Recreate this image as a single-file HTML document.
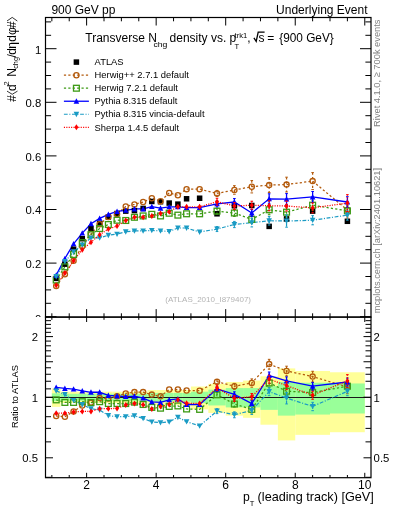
<!DOCTYPE html><html><head><meta charset="utf-8"><style>html,body{margin:0;padding:0;background:#fff;width:393px;height:512px;overflow:hidden;position:relative}</style></head><body><svg width="393" height="512" viewBox="0 0 393 512" style="position:absolute;left:0;top:0;will-change:transform">
<rect width="393" height="512" fill="#fff"/>
<rect x="51.85" y="388.47" width="8.69" height="18.43" fill="#ffff99"/>
<rect x="60.54" y="391.69" width="8.69" height="11.38" fill="#ffff99"/>
<rect x="69.23" y="391.69" width="8.69" height="11.38" fill="#ffff99"/>
<rect x="77.93" y="391.69" width="8.69" height="11.38" fill="#ffff99"/>
<rect x="86.62" y="391.69" width="8.69" height="11.38" fill="#ffff99"/>
<rect x="95.31" y="391.69" width="8.69" height="11.38" fill="#ffff99"/>
<rect x="104.01" y="391.69" width="8.69" height="11.38" fill="#ffff99"/>
<rect x="112.70" y="391.69" width="8.69" height="11.38" fill="#ffff99"/>
<rect x="121.39" y="391.69" width="8.69" height="11.38" fill="#ffff99"/>
<rect x="130.08" y="391.69" width="8.69" height="11.38" fill="#ffff99"/>
<rect x="138.78" y="391.69" width="8.69" height="11.38" fill="#ffff99"/>
<rect x="147.47" y="390.07" width="8.69" height="14.90" fill="#ffff99"/>
<rect x="156.16" y="390.07" width="8.69" height="14.90" fill="#ffff99"/>
<rect x="164.85" y="390.07" width="8.69" height="14.90" fill="#ffff99"/>
<rect x="173.55" y="390.07" width="8.69" height="14.90" fill="#ffff99"/>
<rect x="182.24" y="390.07" width="8.69" height="14.90" fill="#ffff99"/>
<rect x="190.93" y="386.52" width="17.38" height="22.86" fill="#ffff99"/>
<rect x="208.31" y="383.85" width="17.38" height="29.12" fill="#ffff99"/>
<rect x="225.70" y="381.99" width="17.39" height="33.63" fill="#ffff99"/>
<rect x="243.09" y="380.54" width="17.38" height="37.27" fill="#ffff99"/>
<rect x="260.47" y="376.30" width="17.38" height="48.41" fill="#ffff99"/>
<rect x="277.86" y="368.41" width="17.38" height="72.00" fill="#ffff99"/>
<rect x="295.24" y="370.96" width="34.77" height="63.90" fill="#ffff99"/>
<rect x="330.01" y="372.27" width="34.77" height="59.94" fill="#ffff99"/>
<rect x="51.85" y="393.35" width="8.69" height="7.87" fill="#99ff99"/>
<rect x="60.54" y="393.77" width="8.69" height="7.00" fill="#99ff99"/>
<rect x="69.23" y="393.77" width="8.69" height="7.00" fill="#99ff99"/>
<rect x="77.93" y="393.77" width="8.69" height="7.00" fill="#99ff99"/>
<rect x="86.62" y="393.77" width="8.69" height="7.00" fill="#99ff99"/>
<rect x="95.31" y="393.77" width="8.69" height="7.00" fill="#99ff99"/>
<rect x="104.01" y="393.77" width="8.69" height="7.00" fill="#99ff99"/>
<rect x="112.70" y="393.77" width="8.69" height="7.00" fill="#99ff99"/>
<rect x="121.39" y="393.77" width="8.69" height="7.00" fill="#99ff99"/>
<rect x="130.08" y="393.77" width="8.69" height="7.00" fill="#99ff99"/>
<rect x="138.78" y="393.77" width="8.69" height="7.00" fill="#99ff99"/>
<rect x="147.47" y="392.93" width="8.69" height="8.75" fill="#99ff99"/>
<rect x="156.16" y="392.93" width="8.69" height="8.75" fill="#99ff99"/>
<rect x="164.85" y="392.93" width="8.69" height="8.75" fill="#99ff99"/>
<rect x="173.55" y="392.93" width="8.69" height="8.75" fill="#99ff99"/>
<rect x="182.24" y="392.93" width="8.69" height="8.75" fill="#99ff99"/>
<rect x="190.93" y="391.69" width="17.38" height="11.38" fill="#99ff99"/>
<rect x="208.31" y="389.67" width="17.38" height="15.78" fill="#99ff99"/>
<rect x="225.70" y="388.08" width="17.39" height="19.31" fill="#99ff99"/>
<rect x="243.09" y="388.08" width="17.38" height="19.31" fill="#99ff99"/>
<rect x="260.47" y="386.13" width="17.38" height="23.75" fill="#99ff99"/>
<rect x="277.86" y="381.99" width="17.38" height="33.63" fill="#99ff99"/>
<rect x="295.24" y="382.73" width="34.77" height="31.82" fill="#99ff99"/>
<rect x="330.01" y="383.47" width="34.77" height="30.02" fill="#99ff99"/>
<line x1="45.5" y1="397.5" x2="371.0" y2="397.5" stroke="#1a1a1a" stroke-width="1.15"/>
<polyline points="56.20,285.88 64.89,274.36 73.58,260.69 82.27,246.22 90.97,233.89 99.66,224.24 108.35,217.00 117.04,214.06 125.74,206.55 134.43,204.41 143.12,202.00 151.81,198.24 160.51,201.19 169.20,192.88 177.89,195.30 186.58,189.13 199.62,189.13 217.01,193.42 234.39,189.94 251.78,186.72 269.16,185.11 286.55,184.58 312.62,181.09 347.40,210.04" fill="none" stroke="#b35a0c" stroke-width="1.25" stroke-dasharray="2.2,2.2"/>
<polyline points="56.20,279.98 64.89,266.85 73.58,254.52 82.27,242.73 90.97,234.69 99.66,228.53 108.35,224.51 117.04,220.22 125.74,220.49 134.43,217.27 143.12,215.93 151.81,214.32 160.51,215.93 169.20,213.25 177.89,215.13 186.58,213.79 199.62,213.79 217.01,211.11 234.39,212.98 251.78,219.42 269.16,209.77 286.55,212.18 312.62,205.21 347.40,210.84" fill="none" stroke="#3c9a14" stroke-width="1.25" stroke-dasharray="2.2,2.2"/>
<polyline points="56.20,275.16 64.89,258.54 73.58,243.80 82.27,233.08 90.97,223.70 99.66,218.34 108.35,214.32 117.04,211.38 125.74,210.30 134.43,208.96 143.12,208.96 151.81,206.55 160.51,208.16 169.20,206.82 177.89,206.82 186.58,207.62 199.62,207.62 217.01,203.87 234.39,202.00 251.78,212.98 269.16,198.78 286.55,199.05 312.62,196.90 347.40,202.00" fill="none" stroke="#0000ff" stroke-width="1.3"/>
<polyline points="56.20,276.50 64.89,261.49 73.58,251.84 82.27,244.88 90.97,237.91 99.66,237.91 108.35,235.23 117.04,234.16 125.74,231.74 134.43,230.94 143.12,230.94 151.81,230.40 160.51,230.94 169.20,231.48 177.89,227.99 186.58,227.99 199.62,232.01 217.01,229.06 234.39,224.51 251.78,222.63 269.16,220.76 286.55,221.02 312.62,220.22 347.40,215.13" fill="none" stroke="#1a9bc4" stroke-width="1.2" stroke-dasharray="3.8,1.6,1.1,1.6"/>
<polyline points="56.20,285.34 64.89,273.02 73.58,260.69 82.27,249.70 90.97,242.20 99.66,234.69 108.35,229.06 117.04,226.12 125.74,220.49 134.43,217.27 143.12,217.27 151.81,215.93 160.51,213.52 169.20,211.64 177.89,206.82 186.58,206.82 199.62,206.82 217.01,201.73 234.39,206.02 251.78,205.21 269.16,205.75 286.55,206.02 312.62,207.89 347.40,203.07" fill="none" stroke="#ff0000" stroke-width="1.3" stroke-dasharray="1.1,1.3"/>
<rect x="53.45" y="275.63" width="5.5" height="5.5" fill="#000"/>
<rect x="62.14" y="261.42" width="5.5" height="5.5" fill="#000"/>
<rect x="70.83" y="246.41" width="5.5" height="5.5" fill="#000"/>
<rect x="79.52" y="235.96" width="5.5" height="5.5" fill="#000"/>
<rect x="88.22" y="225.78" width="5.5" height="5.5" fill="#000"/>
<rect x="96.91" y="220.69" width="5.5" height="5.5" fill="#000"/>
<rect x="105.60" y="214.25" width="5.5" height="5.5" fill="#000"/>
<rect x="114.29" y="210.77" width="5.5" height="5.5" fill="#000"/>
<rect x="122.99" y="208.36" width="5.5" height="5.5" fill="#000"/>
<rect x="131.68" y="207.82" width="5.5" height="5.5" fill="#000"/>
<rect x="140.37" y="205.68" width="5.5" height="5.5" fill="#000"/>
<rect x="149.06" y="198.71" width="5.5" height="5.5" fill="#000"/>
<rect x="157.76" y="198.98" width="5.5" height="5.5" fill="#000"/>
<rect x="166.45" y="200.32" width="5.5" height="5.5" fill="#000"/>
<rect x="175.14" y="201.39" width="5.5" height="5.5" fill="#000"/>
<rect x="183.83" y="196.03" width="5.5" height="5.5" fill="#000"/>
<rect x="196.87" y="195.49" width="5.5" height="5.5" fill="#000"/>
<rect x="214.26" y="211.04" width="5.5" height="5.5" fill="#000"/>
<rect x="231.64" y="203.00" width="5.5" height="5.5" fill="#000"/>
<rect x="249.03" y="202.73" width="5.5" height="5.5" fill="#000"/>
<rect x="266.41" y="223.63" width="5.5" height="5.5" fill="#000"/>
<rect x="283.80" y="216.13" width="5.5" height="5.5" fill="#000"/>
<rect x="309.88" y="208.36" width="5.5" height="5.5" fill="#000"/>
<rect x="344.65" y="218.54" width="5.5" height="5.5" fill="#000"/>
<circle cx="56.20" cy="285.88" r="2.6" fill="none" stroke="#b35a0c" stroke-width="1.3"/>
<circle cx="64.89" cy="274.36" r="2.6" fill="none" stroke="#b35a0c" stroke-width="1.3"/>
<circle cx="73.58" cy="260.69" r="2.6" fill="none" stroke="#b35a0c" stroke-width="1.3"/>
<circle cx="82.27" cy="246.22" r="2.6" fill="none" stroke="#b35a0c" stroke-width="1.3"/>
<circle cx="90.97" cy="233.89" r="2.6" fill="none" stroke="#b35a0c" stroke-width="1.3"/>
<circle cx="99.66" cy="224.24" r="2.6" fill="none" stroke="#b35a0c" stroke-width="1.3"/>
<circle cx="108.35" cy="217.00" r="2.6" fill="none" stroke="#b35a0c" stroke-width="1.3"/>
<circle cx="117.04" cy="214.06" r="2.6" fill="none" stroke="#b35a0c" stroke-width="1.3"/>
<circle cx="125.74" cy="206.55" r="2.6" fill="none" stroke="#b35a0c" stroke-width="1.3"/>
<circle cx="134.43" cy="204.41" r="2.6" fill="none" stroke="#b35a0c" stroke-width="1.3"/>
<circle cx="143.12" cy="202.00" r="2.6" fill="none" stroke="#b35a0c" stroke-width="1.3"/>
<circle cx="151.81" cy="198.24" r="2.6" fill="none" stroke="#b35a0c" stroke-width="1.3"/>
<circle cx="160.51" cy="201.19" r="2.6" fill="none" stroke="#b35a0c" stroke-width="1.3"/>
<circle cx="169.20" cy="192.88" r="2.6" fill="none" stroke="#b35a0c" stroke-width="1.3"/>
<circle cx="177.89" cy="195.30" r="2.6" fill="none" stroke="#b35a0c" stroke-width="1.3"/>
<circle cx="186.58" cy="189.13" r="2.6" fill="none" stroke="#b35a0c" stroke-width="1.3"/>
<circle cx="199.62" cy="189.13" r="2.6" fill="none" stroke="#b35a0c" stroke-width="1.3"/>
<line x1="217.01" y1="190.42" x2="217.01" y2="196.42" fill="none" stroke="#b35a0c" stroke-width="1.25" stroke-dasharray="2.2,2.2"/>
<line x1="215.71" y1="190.42" x2="218.31" y2="190.42" stroke="#b35a0c" stroke-width="1"/>
<line x1="215.71" y1="196.42" x2="218.31" y2="196.42" stroke="#b35a0c" stroke-width="1"/>
<circle cx="217.01" cy="193.42" r="2.6" fill="none" stroke="#b35a0c" stroke-width="1.3"/>
<line x1="234.39" y1="185.64" x2="234.39" y2="194.24" fill="none" stroke="#b35a0c" stroke-width="1.25" stroke-dasharray="2.2,2.2"/>
<line x1="233.09" y1="185.64" x2="235.69" y2="185.64" stroke="#b35a0c" stroke-width="1"/>
<line x1="233.09" y1="194.24" x2="235.69" y2="194.24" stroke="#b35a0c" stroke-width="1"/>
<circle cx="234.39" cy="189.94" r="2.6" fill="none" stroke="#b35a0c" stroke-width="1.3"/>
<line x1="251.78" y1="180.52" x2="251.78" y2="192.92" fill="none" stroke="#b35a0c" stroke-width="1.25" stroke-dasharray="2.2,2.2"/>
<line x1="250.48" y1="180.52" x2="253.08" y2="180.52" stroke="#b35a0c" stroke-width="1"/>
<line x1="250.48" y1="192.92" x2="253.08" y2="192.92" stroke="#b35a0c" stroke-width="1"/>
<circle cx="251.78" cy="186.72" r="2.6" fill="none" stroke="#b35a0c" stroke-width="1.3"/>
<line x1="269.16" y1="177.71" x2="269.16" y2="192.51" fill="none" stroke="#b35a0c" stroke-width="1.25" stroke-dasharray="2.2,2.2"/>
<line x1="267.86" y1="177.71" x2="270.46" y2="177.71" stroke="#b35a0c" stroke-width="1"/>
<line x1="267.86" y1="192.51" x2="270.46" y2="192.51" stroke="#b35a0c" stroke-width="1"/>
<circle cx="269.16" cy="185.11" r="2.6" fill="none" stroke="#b35a0c" stroke-width="1.3"/>
<line x1="286.55" y1="177.18" x2="286.55" y2="191.98" fill="none" stroke="#b35a0c" stroke-width="1.25" stroke-dasharray="2.2,2.2"/>
<line x1="285.25" y1="177.18" x2="287.85" y2="177.18" stroke="#b35a0c" stroke-width="1"/>
<line x1="285.25" y1="191.98" x2="287.85" y2="191.98" stroke="#b35a0c" stroke-width="1"/>
<circle cx="286.55" cy="184.58" r="2.6" fill="none" stroke="#b35a0c" stroke-width="1.3"/>
<line x1="312.62" y1="172.59" x2="312.62" y2="189.59" fill="none" stroke="#b35a0c" stroke-width="1.25" stroke-dasharray="2.2,2.2"/>
<line x1="311.32" y1="172.59" x2="313.93" y2="172.59" stroke="#b35a0c" stroke-width="1"/>
<line x1="311.32" y1="189.59" x2="313.93" y2="189.59" stroke="#b35a0c" stroke-width="1"/>
<circle cx="312.62" cy="181.09" r="2.6" fill="none" stroke="#b35a0c" stroke-width="1.3"/>
<line x1="347.40" y1="202.04" x2="347.40" y2="218.04" fill="none" stroke="#b35a0c" stroke-width="1.25" stroke-dasharray="2.2,2.2"/>
<line x1="346.10" y1="202.04" x2="348.70" y2="202.04" stroke="#b35a0c" stroke-width="1"/>
<line x1="346.10" y1="218.04" x2="348.70" y2="218.04" stroke="#b35a0c" stroke-width="1"/>
<circle cx="347.40" cy="210.04" r="2.6" fill="none" stroke="#b35a0c" stroke-width="1.3"/>
<rect x="53.30" y="277.08" width="5.8" height="5.8" fill="none" stroke="#3c9a14" stroke-width="1.3"/>
<rect x="61.99" y="263.95" width="5.8" height="5.8" fill="none" stroke="#3c9a14" stroke-width="1.3"/>
<rect x="70.68" y="251.62" width="5.8" height="5.8" fill="none" stroke="#3c9a14" stroke-width="1.3"/>
<rect x="79.37" y="239.83" width="5.8" height="5.8" fill="none" stroke="#3c9a14" stroke-width="1.3"/>
<rect x="88.07" y="231.79" width="5.8" height="5.8" fill="none" stroke="#3c9a14" stroke-width="1.3"/>
<rect x="96.76" y="225.63" width="5.8" height="5.8" fill="none" stroke="#3c9a14" stroke-width="1.3"/>
<rect x="105.45" y="221.61" width="5.8" height="5.8" fill="none" stroke="#3c9a14" stroke-width="1.3"/>
<rect x="114.14" y="217.32" width="5.8" height="5.8" fill="none" stroke="#3c9a14" stroke-width="1.3"/>
<rect x="122.84" y="217.59" width="5.8" height="5.8" fill="none" stroke="#3c9a14" stroke-width="1.3"/>
<rect x="131.53" y="214.37" width="5.8" height="5.8" fill="none" stroke="#3c9a14" stroke-width="1.3"/>
<rect x="140.22" y="213.03" width="5.8" height="5.8" fill="none" stroke="#3c9a14" stroke-width="1.3"/>
<rect x="148.91" y="211.42" width="5.8" height="5.8" fill="none" stroke="#3c9a14" stroke-width="1.3"/>
<rect x="157.61" y="213.03" width="5.8" height="5.8" fill="none" stroke="#3c9a14" stroke-width="1.3"/>
<rect x="166.30" y="210.35" width="5.8" height="5.8" fill="none" stroke="#3c9a14" stroke-width="1.3"/>
<rect x="174.99" y="212.23" width="5.8" height="5.8" fill="none" stroke="#3c9a14" stroke-width="1.3"/>
<rect x="183.68" y="210.89" width="5.8" height="5.8" fill="none" stroke="#3c9a14" stroke-width="1.3"/>
<rect x="196.72" y="210.89" width="5.8" height="5.8" fill="none" stroke="#3c9a14" stroke-width="1.3"/>
<line x1="217.01" y1="208.11" x2="217.01" y2="214.11" fill="none" stroke="#3c9a14" stroke-width="1.25" stroke-dasharray="2.2,2.2"/>
<line x1="215.71" y1="208.11" x2="218.31" y2="208.11" stroke="#3c9a14" stroke-width="1"/>
<line x1="215.71" y1="214.11" x2="218.31" y2="214.11" stroke="#3c9a14" stroke-width="1"/>
<rect x="214.11" y="208.21" width="5.8" height="5.8" fill="none" stroke="#3c9a14" stroke-width="1.3"/>
<line x1="234.39" y1="209.48" x2="234.39" y2="216.48" fill="none" stroke="#3c9a14" stroke-width="1.25" stroke-dasharray="2.2,2.2"/>
<line x1="233.09" y1="209.48" x2="235.69" y2="209.48" stroke="#3c9a14" stroke-width="1"/>
<line x1="233.09" y1="216.48" x2="235.69" y2="216.48" stroke="#3c9a14" stroke-width="1"/>
<rect x="231.49" y="210.08" width="5.8" height="5.8" fill="none" stroke="#3c9a14" stroke-width="1.3"/>
<line x1="251.78" y1="215.42" x2="251.78" y2="223.42" fill="none" stroke="#3c9a14" stroke-width="1.25" stroke-dasharray="2.2,2.2"/>
<line x1="250.48" y1="215.42" x2="253.08" y2="215.42" stroke="#3c9a14" stroke-width="1"/>
<line x1="250.48" y1="223.42" x2="253.08" y2="223.42" stroke="#3c9a14" stroke-width="1"/>
<rect x="248.88" y="216.52" width="5.8" height="5.8" fill="none" stroke="#3c9a14" stroke-width="1.3"/>
<line x1="269.16" y1="204.77" x2="269.16" y2="214.77" fill="none" stroke="#3c9a14" stroke-width="1.25" stroke-dasharray="2.2,2.2"/>
<line x1="267.86" y1="204.77" x2="270.46" y2="204.77" stroke="#3c9a14" stroke-width="1"/>
<line x1="267.86" y1="214.77" x2="270.46" y2="214.77" stroke="#3c9a14" stroke-width="1"/>
<rect x="266.26" y="206.87" width="5.8" height="5.8" fill="none" stroke="#3c9a14" stroke-width="1.3"/>
<line x1="286.55" y1="207.18" x2="286.55" y2="217.18" fill="none" stroke="#3c9a14" stroke-width="1.25" stroke-dasharray="2.2,2.2"/>
<line x1="285.25" y1="207.18" x2="287.85" y2="207.18" stroke="#3c9a14" stroke-width="1"/>
<line x1="285.25" y1="217.18" x2="287.85" y2="217.18" stroke="#3c9a14" stroke-width="1"/>
<rect x="283.65" y="209.28" width="5.8" height="5.8" fill="none" stroke="#3c9a14" stroke-width="1.3"/>
<line x1="312.62" y1="200.21" x2="312.62" y2="210.21" fill="none" stroke="#3c9a14" stroke-width="1.25" stroke-dasharray="2.2,2.2"/>
<line x1="311.32" y1="200.21" x2="313.93" y2="200.21" stroke="#3c9a14" stroke-width="1"/>
<line x1="311.32" y1="210.21" x2="313.93" y2="210.21" stroke="#3c9a14" stroke-width="1"/>
<rect x="309.73" y="202.31" width="5.8" height="5.8" fill="none" stroke="#3c9a14" stroke-width="1.3"/>
<line x1="347.40" y1="205.84" x2="347.40" y2="215.84" fill="none" stroke="#3c9a14" stroke-width="1.25" stroke-dasharray="2.2,2.2"/>
<line x1="346.10" y1="205.84" x2="348.70" y2="205.84" stroke="#3c9a14" stroke-width="1"/>
<line x1="346.10" y1="215.84" x2="348.70" y2="215.84" stroke="#3c9a14" stroke-width="1"/>
<rect x="344.50" y="207.94" width="5.8" height="5.8" fill="none" stroke="#3c9a14" stroke-width="1.3"/>
<path d="M53.40,277.66L59.00,277.66L56.20,272.26Z" fill="#0000ff"/>
<path d="M62.09,261.04L67.69,261.04L64.89,255.64Z" fill="#0000ff"/>
<path d="M70.78,246.30L76.38,246.30L73.58,240.90Z" fill="#0000ff"/>
<path d="M79.47,235.58L85.07,235.58L82.27,230.18Z" fill="#0000ff"/>
<path d="M88.17,226.20L93.77,226.20L90.97,220.80Z" fill="#0000ff"/>
<path d="M96.86,220.84L102.46,220.84L99.66,215.44Z" fill="#0000ff"/>
<path d="M105.55,216.82L111.15,216.82L108.35,211.42Z" fill="#0000ff"/>
<path d="M114.24,213.88L119.84,213.88L117.04,208.48Z" fill="#0000ff"/>
<path d="M122.94,212.80L128.54,212.80L125.74,207.40Z" fill="#0000ff"/>
<path d="M131.63,211.46L137.23,211.46L134.43,206.06Z" fill="#0000ff"/>
<path d="M140.32,211.46L145.92,211.46L143.12,206.06Z" fill="#0000ff"/>
<path d="M149.01,209.05L154.61,209.05L151.81,203.65Z" fill="#0000ff"/>
<path d="M157.71,210.66L163.31,210.66L160.51,205.26Z" fill="#0000ff"/>
<path d="M166.40,209.32L172.00,209.32L169.20,203.92Z" fill="#0000ff"/>
<path d="M175.09,209.32L180.69,209.32L177.89,203.92Z" fill="#0000ff"/>
<path d="M183.78,210.12L189.38,210.12L186.58,204.72Z" fill="#0000ff"/>
<path d="M196.82,210.12L202.42,210.12L199.62,204.72Z" fill="#0000ff"/>
<line x1="217.01" y1="200.87" x2="217.01" y2="206.87" fill="none" stroke="#0000ff" stroke-width="1.3"/>
<line x1="215.71" y1="200.87" x2="218.31" y2="200.87" stroke="#0000ff" stroke-width="1"/>
<line x1="215.71" y1="206.87" x2="218.31" y2="206.87" stroke="#0000ff" stroke-width="1"/>
<path d="M214.21,206.37L219.81,206.37L217.01,200.97Z" fill="#0000ff"/>
<line x1="234.39" y1="198.50" x2="234.39" y2="205.50" fill="none" stroke="#0000ff" stroke-width="1.3"/>
<line x1="233.09" y1="198.50" x2="235.69" y2="198.50" stroke="#0000ff" stroke-width="1"/>
<line x1="233.09" y1="205.50" x2="235.69" y2="205.50" stroke="#0000ff" stroke-width="1"/>
<path d="M231.59,204.50L237.19,204.50L234.39,199.10Z" fill="#0000ff"/>
<line x1="251.78" y1="209.48" x2="251.78" y2="216.48" fill="none" stroke="#0000ff" stroke-width="1.3"/>
<line x1="250.48" y1="209.48" x2="253.08" y2="209.48" stroke="#0000ff" stroke-width="1"/>
<line x1="250.48" y1="216.48" x2="253.08" y2="216.48" stroke="#0000ff" stroke-width="1"/>
<path d="M248.98,215.48L254.58,215.48L251.78,210.08Z" fill="#0000ff"/>
<line x1="269.16" y1="193.78" x2="269.16" y2="203.78" fill="none" stroke="#0000ff" stroke-width="1.3"/>
<line x1="267.86" y1="193.78" x2="270.46" y2="193.78" stroke="#0000ff" stroke-width="1"/>
<line x1="267.86" y1="203.78" x2="270.46" y2="203.78" stroke="#0000ff" stroke-width="1"/>
<path d="M266.36,201.28L271.96,201.28L269.16,195.88Z" fill="#0000ff"/>
<line x1="286.55" y1="193.55" x2="286.55" y2="204.55" fill="none" stroke="#0000ff" stroke-width="1.3"/>
<line x1="285.25" y1="193.55" x2="287.85" y2="193.55" stroke="#0000ff" stroke-width="1"/>
<line x1="285.25" y1="204.55" x2="287.85" y2="204.55" stroke="#0000ff" stroke-width="1"/>
<path d="M283.75,201.55L289.35,201.55L286.55,196.15Z" fill="#0000ff"/>
<line x1="312.62" y1="191.50" x2="312.62" y2="202.30" fill="none" stroke="#0000ff" stroke-width="1.3"/>
<line x1="311.32" y1="191.50" x2="313.93" y2="191.50" stroke="#0000ff" stroke-width="1"/>
<line x1="311.32" y1="202.30" x2="313.93" y2="202.30" stroke="#0000ff" stroke-width="1"/>
<path d="M309.82,199.40L315.43,199.40L312.62,194.00Z" fill="#0000ff"/>
<line x1="347.40" y1="196.70" x2="347.40" y2="207.30" fill="none" stroke="#0000ff" stroke-width="1.3"/>
<line x1="346.10" y1="196.70" x2="348.70" y2="196.70" stroke="#0000ff" stroke-width="1"/>
<line x1="346.10" y1="207.30" x2="348.70" y2="207.30" stroke="#0000ff" stroke-width="1"/>
<path d="M344.60,204.50L350.20,204.50L347.40,199.10Z" fill="#0000ff"/>
<path d="M53.40,274.00L59.00,274.00L56.20,279.40Z" fill="#1a9bc4"/>
<path d="M62.09,258.99L67.69,258.99L64.89,264.39Z" fill="#1a9bc4"/>
<path d="M70.78,249.34L76.38,249.34L73.58,254.74Z" fill="#1a9bc4"/>
<path d="M79.47,242.38L85.07,242.38L82.27,247.78Z" fill="#1a9bc4"/>
<path d="M88.17,235.41L93.77,235.41L90.97,240.81Z" fill="#1a9bc4"/>
<path d="M96.86,235.41L102.46,235.41L99.66,240.81Z" fill="#1a9bc4"/>
<path d="M105.55,232.73L111.15,232.73L108.35,238.13Z" fill="#1a9bc4"/>
<path d="M114.24,231.66L119.84,231.66L117.04,237.06Z" fill="#1a9bc4"/>
<path d="M122.94,229.24L128.54,229.24L125.74,234.64Z" fill="#1a9bc4"/>
<path d="M131.63,228.44L137.23,228.44L134.43,233.84Z" fill="#1a9bc4"/>
<path d="M140.32,228.44L145.92,228.44L143.12,233.84Z" fill="#1a9bc4"/>
<path d="M149.01,227.90L154.61,227.90L151.81,233.30Z" fill="#1a9bc4"/>
<path d="M157.71,228.44L163.31,228.44L160.51,233.84Z" fill="#1a9bc4"/>
<path d="M166.40,228.98L172.00,228.98L169.20,234.38Z" fill="#1a9bc4"/>
<path d="M175.09,225.49L180.69,225.49L177.89,230.89Z" fill="#1a9bc4"/>
<path d="M183.78,225.49L189.38,225.49L186.58,230.89Z" fill="#1a9bc4"/>
<path d="M196.82,229.51L202.42,229.51L199.62,234.91Z" fill="#1a9bc4"/>
<line x1="217.01" y1="226.56" x2="217.01" y2="231.56" fill="none" stroke="#1a9bc4" stroke-width="1.2" stroke-dasharray="3.8,1.6,1.1,1.6"/>
<line x1="215.71" y1="226.56" x2="218.31" y2="226.56" stroke="#1a9bc4" stroke-width="1"/>
<line x1="215.71" y1="231.56" x2="218.31" y2="231.56" stroke="#1a9bc4" stroke-width="1"/>
<path d="M214.21,226.56L219.81,226.56L217.01,231.96Z" fill="#1a9bc4"/>
<line x1="234.39" y1="221.41" x2="234.39" y2="227.61" fill="none" stroke="#1a9bc4" stroke-width="1.2" stroke-dasharray="3.8,1.6,1.1,1.6"/>
<line x1="233.09" y1="221.41" x2="235.69" y2="221.41" stroke="#1a9bc4" stroke-width="1"/>
<line x1="233.09" y1="227.61" x2="235.69" y2="227.61" stroke="#1a9bc4" stroke-width="1"/>
<path d="M231.59,222.01L237.19,222.01L234.39,227.41Z" fill="#1a9bc4"/>
<line x1="251.78" y1="218.33" x2="251.78" y2="226.93" fill="none" stroke="#1a9bc4" stroke-width="1.2" stroke-dasharray="3.8,1.6,1.1,1.6"/>
<line x1="250.48" y1="218.33" x2="253.08" y2="218.33" stroke="#1a9bc4" stroke-width="1"/>
<line x1="250.48" y1="226.93" x2="253.08" y2="226.93" stroke="#1a9bc4" stroke-width="1"/>
<path d="M248.98,220.13L254.58,220.13L251.78,225.53Z" fill="#1a9bc4"/>
<line x1="269.16" y1="216.46" x2="269.16" y2="225.06" fill="none" stroke="#1a9bc4" stroke-width="1.2" stroke-dasharray="3.8,1.6,1.1,1.6"/>
<line x1="267.86" y1="216.46" x2="270.46" y2="216.46" stroke="#1a9bc4" stroke-width="1"/>
<line x1="267.86" y1="225.06" x2="270.46" y2="225.06" stroke="#1a9bc4" stroke-width="1"/>
<path d="M266.36,218.26L271.96,218.26L269.16,223.66Z" fill="#1a9bc4"/>
<line x1="286.55" y1="214.82" x2="286.55" y2="227.22" fill="none" stroke="#1a9bc4" stroke-width="1.2" stroke-dasharray="3.8,1.6,1.1,1.6"/>
<line x1="285.25" y1="214.82" x2="287.85" y2="214.82" stroke="#1a9bc4" stroke-width="1"/>
<line x1="285.25" y1="227.22" x2="287.85" y2="227.22" stroke="#1a9bc4" stroke-width="1"/>
<path d="M283.75,218.52L289.35,218.52L286.55,223.92Z" fill="#1a9bc4"/>
<line x1="312.62" y1="215.62" x2="312.62" y2="224.82" fill="none" stroke="#1a9bc4" stroke-width="1.2" stroke-dasharray="3.8,1.6,1.1,1.6"/>
<line x1="311.32" y1="215.62" x2="313.93" y2="215.62" stroke="#1a9bc4" stroke-width="1"/>
<line x1="311.32" y1="224.82" x2="313.93" y2="224.82" stroke="#1a9bc4" stroke-width="1"/>
<path d="M309.82,217.72L315.43,217.72L312.62,223.12Z" fill="#1a9bc4"/>
<line x1="347.40" y1="210.13" x2="347.40" y2="220.13" fill="none" stroke="#1a9bc4" stroke-width="1.2" stroke-dasharray="3.8,1.6,1.1,1.6"/>
<line x1="346.10" y1="210.13" x2="348.70" y2="210.13" stroke="#1a9bc4" stroke-width="1"/>
<line x1="346.10" y1="220.13" x2="348.70" y2="220.13" stroke="#1a9bc4" stroke-width="1"/>
<path d="M344.60,212.63L350.20,212.63L347.40,218.03Z" fill="#1a9bc4"/>
<path d="M56.20,282.34L58.20,285.34L56.20,288.34L54.20,285.34Z" fill="#ff0000"/>
<path d="M64.89,270.02L66.89,273.02L64.89,276.02L62.89,273.02Z" fill="#ff0000"/>
<path d="M73.58,257.69L75.58,260.69L73.58,263.69L71.58,260.69Z" fill="#ff0000"/>
<path d="M82.27,246.70L84.27,249.70L82.27,252.70L80.27,249.70Z" fill="#ff0000"/>
<path d="M90.97,239.20L92.97,242.20L90.97,245.20L88.97,242.20Z" fill="#ff0000"/>
<path d="M99.66,231.69L101.66,234.69L99.66,237.69L97.66,234.69Z" fill="#ff0000"/>
<path d="M108.35,226.06L110.35,229.06L108.35,232.06L106.35,229.06Z" fill="#ff0000"/>
<path d="M117.04,223.12L119.04,226.12L117.04,229.12L115.04,226.12Z" fill="#ff0000"/>
<path d="M125.74,217.49L127.74,220.49L125.74,223.49L123.74,220.49Z" fill="#ff0000"/>
<path d="M134.43,214.27L136.43,217.27L134.43,220.27L132.43,217.27Z" fill="#ff0000"/>
<path d="M143.12,214.27L145.12,217.27L143.12,220.27L141.12,217.27Z" fill="#ff0000"/>
<path d="M151.81,212.93L153.81,215.93L151.81,218.93L149.81,215.93Z" fill="#ff0000"/>
<path d="M160.51,210.52L162.51,213.52L160.51,216.52L158.51,213.52Z" fill="#ff0000"/>
<path d="M169.20,208.64L171.20,211.64L169.20,214.64L167.20,211.64Z" fill="#ff0000"/>
<path d="M177.89,203.82L179.89,206.82L177.89,209.82L175.89,206.82Z" fill="#ff0000"/>
<path d="M186.58,203.82L188.58,206.82L186.58,209.82L184.58,206.82Z" fill="#ff0000"/>
<path d="M199.62,203.82L201.62,206.82L199.62,209.82L197.62,206.82Z" fill="#ff0000"/>
<line x1="217.01" y1="198.23" x2="217.01" y2="205.23" fill="none" stroke="#ff0000" stroke-width="1.3" stroke-dasharray="1.1,1.3"/>
<line x1="215.71" y1="198.23" x2="218.31" y2="198.23" stroke="#ff0000" stroke-width="1"/>
<line x1="215.71" y1="205.23" x2="218.31" y2="205.23" stroke="#ff0000" stroke-width="1"/>
<path d="M217.01,198.73L219.01,201.73L217.01,204.73L215.01,201.73Z" fill="#ff0000"/>
<line x1="234.39" y1="202.52" x2="234.39" y2="209.52" fill="none" stroke="#ff0000" stroke-width="1.3" stroke-dasharray="1.1,1.3"/>
<line x1="233.09" y1="202.52" x2="235.69" y2="202.52" stroke="#ff0000" stroke-width="1"/>
<line x1="233.09" y1="209.52" x2="235.69" y2="209.52" stroke="#ff0000" stroke-width="1"/>
<path d="M234.39,203.02L236.39,206.02L234.39,209.02L232.39,206.02Z" fill="#ff0000"/>
<line x1="251.78" y1="201.21" x2="251.78" y2="209.21" fill="none" stroke="#ff0000" stroke-width="1.3" stroke-dasharray="1.1,1.3"/>
<line x1="250.48" y1="201.21" x2="253.08" y2="201.21" stroke="#ff0000" stroke-width="1"/>
<line x1="250.48" y1="209.21" x2="253.08" y2="209.21" stroke="#ff0000" stroke-width="1"/>
<path d="M251.78,202.21L253.78,205.21L251.78,208.21L249.78,205.21Z" fill="#ff0000"/>
<line x1="269.16" y1="200.75" x2="269.16" y2="210.75" fill="none" stroke="#ff0000" stroke-width="1.3" stroke-dasharray="1.1,1.3"/>
<line x1="267.86" y1="200.75" x2="270.46" y2="200.75" stroke="#ff0000" stroke-width="1"/>
<line x1="267.86" y1="210.75" x2="270.46" y2="210.75" stroke="#ff0000" stroke-width="1"/>
<path d="M269.16,202.75L271.16,205.75L269.16,208.75L267.16,205.75Z" fill="#ff0000"/>
<line x1="286.55" y1="201.02" x2="286.55" y2="211.02" fill="none" stroke="#ff0000" stroke-width="1.3" stroke-dasharray="1.1,1.3"/>
<line x1="285.25" y1="201.02" x2="287.85" y2="201.02" stroke="#ff0000" stroke-width="1"/>
<line x1="285.25" y1="211.02" x2="287.85" y2="211.02" stroke="#ff0000" stroke-width="1"/>
<path d="M286.55,203.02L288.55,206.02L286.55,209.02L284.55,206.02Z" fill="#ff0000"/>
<line x1="312.62" y1="202.89" x2="312.62" y2="212.89" fill="none" stroke="#ff0000" stroke-width="1.3" stroke-dasharray="1.1,1.3"/>
<line x1="311.32" y1="202.89" x2="313.93" y2="202.89" stroke="#ff0000" stroke-width="1"/>
<line x1="311.32" y1="212.89" x2="313.93" y2="212.89" stroke="#ff0000" stroke-width="1"/>
<path d="M312.62,204.89L314.62,207.89L312.62,210.89L310.62,207.89Z" fill="#ff0000"/>
<line x1="347.40" y1="194.67" x2="347.40" y2="211.47" fill="none" stroke="#ff0000" stroke-width="1.3" stroke-dasharray="1.1,1.3"/>
<line x1="346.10" y1="194.67" x2="348.70" y2="194.67" stroke="#ff0000" stroke-width="1"/>
<line x1="346.10" y1="211.47" x2="348.70" y2="211.47" stroke="#ff0000" stroke-width="1"/>
<path d="M347.40,200.07L349.40,203.07L347.40,206.07L345.40,203.07Z" fill="#ff0000"/>
<polyline points="56.20,416.05 64.89,416.71 73.58,411.41 82.27,405.44 90.97,402.61 99.66,398.08 108.35,398.52 117.04,396.33 125.74,393.44 134.43,392.11 143.12,392.11 151.81,394.62 160.51,396.33 169.20,389.51 177.89,389.51 186.58,390.47 199.62,390.71 217.01,381.63 234.39,386.28 251.78,382.95 269.16,364.12 286.55,370.96 312.62,376.58 347.40,386.90" fill="none" stroke="#b35a0c" stroke-width="1.25" stroke-dasharray="2.2,2.2"/>
<polyline points="56.20,399.86 64.89,402.42 73.58,402.42 82.27,401.68 90.97,402.61 99.66,401.68 108.35,403.54 117.04,403.54 125.74,403.54 134.43,402.15 143.12,404.49 151.81,407.39 160.51,408.18 169.20,406.41 177.89,405.93 186.58,408.97 199.62,409.37 217.01,394.79 234.39,404.02 251.78,409.37 269.16,382.95 286.55,391.20 312.62,392.60 347.40,386.21" fill="none" stroke="#3c9a14" stroke-width="1.25" stroke-dasharray="2.2,2.2"/>
<polyline points="56.20,387.29 64.89,388.39 73.58,389.03 82.27,390.88 90.97,392.27 99.66,392.27 108.35,395.47 117.04,395.98 125.74,396.59 134.43,396.16 143.12,398.08 151.81,401.78 160.51,402.42 169.20,399.86 177.89,398.97 186.58,404.49 199.62,404.49 217.01,388.87 234.39,394.45 251.78,403.54 269.16,375.62 286.55,380.90 312.62,386.21 347.40,381.99" fill="none" stroke="#0000ff" stroke-width="1.3"/>
<polyline points="56.20,390.88 64.89,394.62 73.58,400.41 82.27,404.49 90.97,408.77 99.66,409.98 108.35,415.62 117.04,416.71 125.74,416.71 134.43,415.84 143.12,418.47 151.81,421.89 160.51,422.70 169.20,421.89 177.89,417.26 186.58,421.65 199.62,425.92 217.01,411.10 234.39,414.76 251.78,410.39 269.16,391.61 286.55,398.08 312.62,406.41 347.40,391.29" fill="none" stroke="#1a9bc4" stroke-width="1.2" stroke-dasharray="3.8,1.6,1.1,1.6"/>
<polyline points="56.20,413.17 64.89,413.17 73.58,411.92 82.27,411.41 90.97,411.41 99.66,408.67 108.35,408.67 117.04,408.38 125.74,404.97 134.43,403.54 143.12,404.78 151.81,408.97 160.51,406.61 169.20,404.49 177.89,399.86 186.58,403.17 199.62,403.54 217.01,387.68 234.39,398.52 251.78,396.59 269.16,379.10 286.55,385.59 312.62,395.13 347.40,380.90" fill="none" stroke="#ff0000" stroke-width="1.3" stroke-dasharray="1.1,1.3"/>
<circle cx="56.20" cy="416.05" r="2.6" fill="none" stroke="#b35a0c" stroke-width="1.3"/>
<circle cx="64.89" cy="416.71" r="2.6" fill="none" stroke="#b35a0c" stroke-width="1.3"/>
<circle cx="73.58" cy="411.41" r="2.6" fill="none" stroke="#b35a0c" stroke-width="1.3"/>
<circle cx="82.27" cy="405.44" r="2.6" fill="none" stroke="#b35a0c" stroke-width="1.3"/>
<circle cx="90.97" cy="402.61" r="2.6" fill="none" stroke="#b35a0c" stroke-width="1.3"/>
<circle cx="99.66" cy="398.08" r="2.6" fill="none" stroke="#b35a0c" stroke-width="1.3"/>
<circle cx="108.35" cy="398.52" r="2.6" fill="none" stroke="#b35a0c" stroke-width="1.3"/>
<circle cx="117.04" cy="396.33" r="2.6" fill="none" stroke="#b35a0c" stroke-width="1.3"/>
<circle cx="125.74" cy="393.44" r="2.6" fill="none" stroke="#b35a0c" stroke-width="1.3"/>
<circle cx="134.43" cy="392.11" r="2.6" fill="none" stroke="#b35a0c" stroke-width="1.3"/>
<circle cx="143.12" cy="392.11" r="2.6" fill="none" stroke="#b35a0c" stroke-width="1.3"/>
<circle cx="151.81" cy="394.62" r="2.6" fill="none" stroke="#b35a0c" stroke-width="1.3"/>
<circle cx="160.51" cy="396.33" r="2.6" fill="none" stroke="#b35a0c" stroke-width="1.3"/>
<circle cx="169.20" cy="389.51" r="2.6" fill="none" stroke="#b35a0c" stroke-width="1.3"/>
<circle cx="177.89" cy="389.51" r="2.6" fill="none" stroke="#b35a0c" stroke-width="1.3"/>
<circle cx="186.58" cy="390.47" r="2.6" fill="none" stroke="#b35a0c" stroke-width="1.3"/>
<circle cx="199.62" cy="390.71" r="2.6" fill="none" stroke="#b35a0c" stroke-width="1.3"/>
<line x1="217.01" y1="379.52" x2="217.01" y2="383.78" fill="none" stroke="#b35a0c" stroke-width="1.25" stroke-dasharray="2.2,2.2"/>
<line x1="215.71" y1="379.52" x2="218.31" y2="379.52" stroke="#b35a0c" stroke-width="1"/>
<line x1="215.71" y1="383.78" x2="218.31" y2="383.78" stroke="#b35a0c" stroke-width="1"/>
<circle cx="217.01" cy="381.63" r="2.6" fill="none" stroke="#b35a0c" stroke-width="1.3"/>
<line x1="234.39" y1="383.37" x2="234.39" y2="389.30" fill="none" stroke="#b35a0c" stroke-width="1.25" stroke-dasharray="2.2,2.2"/>
<line x1="233.09" y1="383.37" x2="235.69" y2="383.37" stroke="#b35a0c" stroke-width="1"/>
<line x1="233.09" y1="389.30" x2="235.69" y2="389.30" stroke="#b35a0c" stroke-width="1"/>
<circle cx="234.39" cy="386.28" r="2.6" fill="none" stroke="#b35a0c" stroke-width="1.3"/>
<line x1="251.78" y1="378.88" x2="251.78" y2="387.23" fill="none" stroke="#b35a0c" stroke-width="1.25" stroke-dasharray="2.2,2.2"/>
<line x1="250.48" y1="378.88" x2="253.08" y2="378.88" stroke="#b35a0c" stroke-width="1"/>
<line x1="250.48" y1="387.23" x2="253.08" y2="387.23" stroke="#b35a0c" stroke-width="1"/>
<circle cx="251.78" cy="382.95" r="2.6" fill="none" stroke="#b35a0c" stroke-width="1.3"/>
<line x1="269.16" y1="359.33" x2="269.16" y2="369.18" fill="none" stroke="#b35a0c" stroke-width="1.25" stroke-dasharray="2.2,2.2"/>
<line x1="267.86" y1="359.33" x2="270.46" y2="359.33" stroke="#b35a0c" stroke-width="1"/>
<line x1="267.86" y1="369.18" x2="270.46" y2="369.18" stroke="#b35a0c" stroke-width="1"/>
<circle cx="269.16" cy="364.12" r="2.6" fill="none" stroke="#b35a0c" stroke-width="1.3"/>
<line x1="286.55" y1="366.20" x2="286.55" y2="376.00" fill="none" stroke="#b35a0c" stroke-width="1.25" stroke-dasharray="2.2,2.2"/>
<line x1="285.25" y1="366.20" x2="287.85" y2="366.20" stroke="#b35a0c" stroke-width="1"/>
<line x1="285.25" y1="376.00" x2="287.85" y2="376.00" stroke="#b35a0c" stroke-width="1"/>
<circle cx="286.55" cy="370.96" r="2.6" fill="none" stroke="#b35a0c" stroke-width="1.3"/>
<line x1="312.62" y1="371.27" x2="312.62" y2="382.24" fill="none" stroke="#b35a0c" stroke-width="1.25" stroke-dasharray="2.2,2.2"/>
<line x1="311.32" y1="371.27" x2="313.93" y2="371.27" stroke="#b35a0c" stroke-width="1"/>
<line x1="311.32" y1="382.24" x2="313.93" y2="382.24" stroke="#b35a0c" stroke-width="1"/>
<circle cx="312.62" cy="376.58" r="2.6" fill="none" stroke="#b35a0c" stroke-width="1.3"/>
<line x1="347.40" y1="380.58" x2="347.40" y2="393.72" fill="none" stroke="#b35a0c" stroke-width="1.25" stroke-dasharray="2.2,2.2"/>
<line x1="346.10" y1="380.58" x2="348.70" y2="380.58" stroke="#b35a0c" stroke-width="1"/>
<line x1="346.10" y1="393.72" x2="348.70" y2="393.72" stroke="#b35a0c" stroke-width="1"/>
<circle cx="347.40" cy="386.90" r="2.6" fill="none" stroke="#b35a0c" stroke-width="1.3"/>
<rect x="53.30" y="396.96" width="5.8" height="5.8" fill="none" stroke="#3c9a14" stroke-width="1.3"/>
<rect x="61.99" y="399.52" width="5.8" height="5.8" fill="none" stroke="#3c9a14" stroke-width="1.3"/>
<rect x="70.68" y="399.52" width="5.8" height="5.8" fill="none" stroke="#3c9a14" stroke-width="1.3"/>
<rect x="79.37" y="398.78" width="5.8" height="5.8" fill="none" stroke="#3c9a14" stroke-width="1.3"/>
<rect x="88.07" y="399.71" width="5.8" height="5.8" fill="none" stroke="#3c9a14" stroke-width="1.3"/>
<rect x="96.76" y="398.78" width="5.8" height="5.8" fill="none" stroke="#3c9a14" stroke-width="1.3"/>
<rect x="105.45" y="400.64" width="5.8" height="5.8" fill="none" stroke="#3c9a14" stroke-width="1.3"/>
<rect x="114.14" y="400.64" width="5.8" height="5.8" fill="none" stroke="#3c9a14" stroke-width="1.3"/>
<rect x="122.84" y="400.64" width="5.8" height="5.8" fill="none" stroke="#3c9a14" stroke-width="1.3"/>
<rect x="131.53" y="399.25" width="5.8" height="5.8" fill="none" stroke="#3c9a14" stroke-width="1.3"/>
<rect x="140.22" y="401.59" width="5.8" height="5.8" fill="none" stroke="#3c9a14" stroke-width="1.3"/>
<rect x="148.91" y="404.49" width="5.8" height="5.8" fill="none" stroke="#3c9a14" stroke-width="1.3"/>
<rect x="157.61" y="405.28" width="5.8" height="5.8" fill="none" stroke="#3c9a14" stroke-width="1.3"/>
<rect x="166.30" y="403.51" width="5.8" height="5.8" fill="none" stroke="#3c9a14" stroke-width="1.3"/>
<rect x="174.99" y="403.03" width="5.8" height="5.8" fill="none" stroke="#3c9a14" stroke-width="1.3"/>
<rect x="183.68" y="406.07" width="5.8" height="5.8" fill="none" stroke="#3c9a14" stroke-width="1.3"/>
<rect x="196.72" y="406.47" width="5.8" height="5.8" fill="none" stroke="#3c9a14" stroke-width="1.3"/>
<line x1="217.01" y1="392.34" x2="217.01" y2="397.31" fill="none" stroke="#3c9a14" stroke-width="1.25" stroke-dasharray="2.2,2.2"/>
<line x1="215.71" y1="392.34" x2="218.31" y2="392.34" stroke="#3c9a14" stroke-width="1"/>
<line x1="215.71" y1="397.31" x2="218.31" y2="397.31" stroke="#3c9a14" stroke-width="1"/>
<rect x="214.11" y="391.89" width="5.8" height="5.8" fill="none" stroke="#3c9a14" stroke-width="1.3"/>
<line x1="234.39" y1="401.11" x2="234.39" y2="407.02" fill="none" stroke="#3c9a14" stroke-width="1.25" stroke-dasharray="2.2,2.2"/>
<line x1="233.09" y1="401.11" x2="235.69" y2="401.11" stroke="#3c9a14" stroke-width="1"/>
<line x1="233.09" y1="407.02" x2="235.69" y2="407.02" stroke="#3c9a14" stroke-width="1"/>
<rect x="231.49" y="401.12" width="5.8" height="5.8" fill="none" stroke="#3c9a14" stroke-width="1.3"/>
<line x1="251.78" y1="405.85" x2="251.78" y2="413.05" fill="none" stroke="#3c9a14" stroke-width="1.25" stroke-dasharray="2.2,2.2"/>
<line x1="250.48" y1="405.85" x2="253.08" y2="405.85" stroke="#3c9a14" stroke-width="1"/>
<line x1="250.48" y1="413.05" x2="253.08" y2="413.05" stroke="#3c9a14" stroke-width="1"/>
<rect x="248.88" y="406.47" width="5.8" height="5.8" fill="none" stroke="#3c9a14" stroke-width="1.3"/>
<line x1="269.16" y1="378.96" x2="269.16" y2="387.14" fill="none" stroke="#3c9a14" stroke-width="1.25" stroke-dasharray="2.2,2.2"/>
<line x1="267.86" y1="378.96" x2="270.46" y2="378.96" stroke="#3c9a14" stroke-width="1"/>
<line x1="267.86" y1="387.14" x2="270.46" y2="387.14" stroke="#3c9a14" stroke-width="1"/>
<rect x="266.26" y="380.05" width="5.8" height="5.8" fill="none" stroke="#3c9a14" stroke-width="1.3"/>
<line x1="286.55" y1="387.12" x2="286.55" y2="395.49" fill="none" stroke="#3c9a14" stroke-width="1.25" stroke-dasharray="2.2,2.2"/>
<line x1="285.25" y1="387.12" x2="287.85" y2="387.12" stroke="#3c9a14" stroke-width="1"/>
<line x1="285.25" y1="395.49" x2="287.85" y2="395.49" stroke="#3c9a14" stroke-width="1"/>
<rect x="283.65" y="388.30" width="5.8" height="5.8" fill="none" stroke="#3c9a14" stroke-width="1.3"/>
<line x1="312.62" y1="388.77" x2="312.62" y2="396.61" fill="none" stroke="#3c9a14" stroke-width="1.25" stroke-dasharray="2.2,2.2"/>
<line x1="311.32" y1="388.77" x2="313.93" y2="388.77" stroke="#3c9a14" stroke-width="1"/>
<line x1="311.32" y1="396.61" x2="313.93" y2="396.61" stroke="#3c9a14" stroke-width="1"/>
<rect x="309.73" y="389.70" width="5.8" height="5.8" fill="none" stroke="#3c9a14" stroke-width="1.3"/>
<line x1="347.40" y1="382.17" x2="347.40" y2="390.44" fill="none" stroke="#3c9a14" stroke-width="1.25" stroke-dasharray="2.2,2.2"/>
<line x1="346.10" y1="382.17" x2="348.70" y2="382.17" stroke="#3c9a14" stroke-width="1"/>
<line x1="346.10" y1="390.44" x2="348.70" y2="390.44" stroke="#3c9a14" stroke-width="1"/>
<rect x="344.50" y="383.31" width="5.8" height="5.8" fill="none" stroke="#3c9a14" stroke-width="1.3"/>
<path d="M53.40,389.79L59.00,389.79L56.20,384.39Z" fill="#0000ff"/>
<path d="M62.09,390.89L67.69,390.89L64.89,385.49Z" fill="#0000ff"/>
<path d="M70.78,391.53L76.38,391.53L73.58,386.13Z" fill="#0000ff"/>
<path d="M79.47,393.38L85.07,393.38L82.27,387.98Z" fill="#0000ff"/>
<path d="M88.17,394.77L93.77,394.77L90.97,389.37Z" fill="#0000ff"/>
<path d="M96.86,394.77L102.46,394.77L99.66,389.37Z" fill="#0000ff"/>
<path d="M105.55,397.97L111.15,397.97L108.35,392.57Z" fill="#0000ff"/>
<path d="M114.24,398.48L119.84,398.48L117.04,393.08Z" fill="#0000ff"/>
<path d="M122.94,399.09L128.54,399.09L125.74,393.69Z" fill="#0000ff"/>
<path d="M131.63,398.66L137.23,398.66L134.43,393.26Z" fill="#0000ff"/>
<path d="M140.32,400.58L145.92,400.58L143.12,395.18Z" fill="#0000ff"/>
<path d="M149.01,404.28L154.61,404.28L151.81,398.88Z" fill="#0000ff"/>
<path d="M157.71,404.92L163.31,404.92L160.51,399.52Z" fill="#0000ff"/>
<path d="M166.40,402.36L172.00,402.36L169.20,396.96Z" fill="#0000ff"/>
<path d="M175.09,401.47L180.69,401.47L177.89,396.07Z" fill="#0000ff"/>
<path d="M183.78,406.99L189.38,406.99L186.58,401.59Z" fill="#0000ff"/>
<path d="M196.82,406.99L202.42,406.99L199.62,401.59Z" fill="#0000ff"/>
<line x1="217.01" y1="386.57" x2="217.01" y2="391.22" fill="none" stroke="#0000ff" stroke-width="1.3"/>
<line x1="215.71" y1="386.57" x2="218.31" y2="386.57" stroke="#0000ff" stroke-width="1"/>
<line x1="215.71" y1="391.22" x2="218.31" y2="391.22" stroke="#0000ff" stroke-width="1"/>
<path d="M214.21,391.37L219.81,391.37L217.01,385.97Z" fill="#0000ff"/>
<line x1="234.39" y1="391.82" x2="234.39" y2="397.16" fill="none" stroke="#0000ff" stroke-width="1.3"/>
<line x1="233.09" y1="391.82" x2="235.69" y2="391.82" stroke="#0000ff" stroke-width="1"/>
<line x1="233.09" y1="397.16" x2="235.69" y2="397.16" stroke="#0000ff" stroke-width="1"/>
<path d="M231.59,396.95L237.19,396.95L234.39,391.55Z" fill="#0000ff"/>
<line x1="251.78" y1="400.64" x2="251.78" y2="406.55" fill="none" stroke="#0000ff" stroke-width="1.3"/>
<line x1="250.48" y1="400.64" x2="253.08" y2="400.64" stroke="#0000ff" stroke-width="1"/>
<line x1="250.48" y1="406.55" x2="253.08" y2="406.55" stroke="#0000ff" stroke-width="1"/>
<path d="M248.98,406.04L254.58,406.04L251.78,400.64Z" fill="#0000ff"/>
<line x1="269.16" y1="371.99" x2="269.16" y2="379.41" fill="none" stroke="#0000ff" stroke-width="1.3"/>
<line x1="267.86" y1="371.99" x2="270.46" y2="371.99" stroke="#0000ff" stroke-width="1"/>
<line x1="267.86" y1="379.41" x2="270.46" y2="379.41" stroke="#0000ff" stroke-width="1"/>
<path d="M266.36,378.12L271.96,378.12L269.16,372.72Z" fill="#0000ff"/>
<line x1="286.55" y1="376.90" x2="286.55" y2="385.08" fill="none" stroke="#0000ff" stroke-width="1.3"/>
<line x1="285.25" y1="376.90" x2="287.85" y2="376.90" stroke="#0000ff" stroke-width="1"/>
<line x1="285.25" y1="385.08" x2="287.85" y2="385.08" stroke="#0000ff" stroke-width="1"/>
<path d="M283.75,383.40L289.35,383.40L286.55,378.00Z" fill="#0000ff"/>
<line x1="312.62" y1="382.35" x2="312.62" y2="390.24" fill="none" stroke="#0000ff" stroke-width="1.3"/>
<line x1="311.32" y1="382.35" x2="313.93" y2="382.35" stroke="#0000ff" stroke-width="1"/>
<line x1="311.32" y1="390.24" x2="313.93" y2="390.24" stroke="#0000ff" stroke-width="1"/>
<path d="M309.82,388.71L315.43,388.71L312.62,383.31Z" fill="#0000ff"/>
<line x1="347.40" y1="378.04" x2="347.40" y2="386.13" fill="none" stroke="#0000ff" stroke-width="1.3"/>
<line x1="346.10" y1="378.04" x2="348.70" y2="378.04" stroke="#0000ff" stroke-width="1"/>
<line x1="346.10" y1="386.13" x2="348.70" y2="386.13" stroke="#0000ff" stroke-width="1"/>
<path d="M344.60,384.49L350.20,384.49L347.40,379.09Z" fill="#0000ff"/>
<path d="M53.40,388.38L59.00,388.38L56.20,393.78Z" fill="#1a9bc4"/>
<path d="M62.09,392.12L67.69,392.12L64.89,397.52Z" fill="#1a9bc4"/>
<path d="M70.78,397.91L76.38,397.91L73.58,403.31Z" fill="#1a9bc4"/>
<path d="M79.47,401.99L85.07,401.99L82.27,407.39Z" fill="#1a9bc4"/>
<path d="M88.17,406.27L93.77,406.27L90.97,411.67Z" fill="#1a9bc4"/>
<path d="M96.86,407.48L102.46,407.48L99.66,412.88Z" fill="#1a9bc4"/>
<path d="M105.55,413.12L111.15,413.12L108.35,418.52Z" fill="#1a9bc4"/>
<path d="M114.24,414.21L119.84,414.21L117.04,419.61Z" fill="#1a9bc4"/>
<path d="M122.94,414.21L128.54,414.21L125.74,419.61Z" fill="#1a9bc4"/>
<path d="M131.63,413.34L137.23,413.34L134.43,418.74Z" fill="#1a9bc4"/>
<path d="M140.32,415.97L145.92,415.97L143.12,421.37Z" fill="#1a9bc4"/>
<path d="M149.01,419.39L154.61,419.39L151.81,424.79Z" fill="#1a9bc4"/>
<path d="M157.71,420.20L163.31,420.20L160.51,425.60Z" fill="#1a9bc4"/>
<path d="M166.40,419.39L172.00,419.39L169.20,424.79Z" fill="#1a9bc4"/>
<path d="M175.09,414.76L180.69,414.76L177.89,420.16Z" fill="#1a9bc4"/>
<path d="M183.78,419.15L189.38,419.15L186.58,424.55Z" fill="#1a9bc4"/>
<path d="M196.82,423.42L202.42,423.42L199.62,428.82Z" fill="#1a9bc4"/>
<line x1="217.01" y1="408.64" x2="217.01" y2="413.63" fill="none" stroke="#1a9bc4" stroke-width="1.2" stroke-dasharray="3.8,1.6,1.1,1.6"/>
<line x1="215.71" y1="408.64" x2="218.31" y2="408.64" stroke="#1a9bc4" stroke-width="1"/>
<line x1="215.71" y1="413.63" x2="218.31" y2="413.63" stroke="#1a9bc4" stroke-width="1"/>
<path d="M214.21,408.60L219.81,408.60L217.01,414.00Z" fill="#1a9bc4"/>
<line x1="234.39" y1="411.87" x2="234.39" y2="417.75" fill="none" stroke="#1a9bc4" stroke-width="1.2" stroke-dasharray="3.8,1.6,1.1,1.6"/>
<line x1="233.09" y1="411.87" x2="235.69" y2="411.87" stroke="#1a9bc4" stroke-width="1"/>
<line x1="233.09" y1="417.75" x2="235.69" y2="417.75" stroke="#1a9bc4" stroke-width="1"/>
<path d="M231.59,412.26L237.19,412.26L234.39,417.66Z" fill="#1a9bc4"/>
<line x1="251.78" y1="406.48" x2="251.78" y2="414.48" fill="none" stroke="#1a9bc4" stroke-width="1.2" stroke-dasharray="3.8,1.6,1.1,1.6"/>
<line x1="250.48" y1="406.48" x2="253.08" y2="406.48" stroke="#1a9bc4" stroke-width="1"/>
<line x1="250.48" y1="414.48" x2="253.08" y2="414.48" stroke="#1a9bc4" stroke-width="1"/>
<path d="M248.98,407.89L254.58,407.89L251.78,413.29Z" fill="#1a9bc4"/>
<line x1="269.16" y1="387.78" x2="269.16" y2="395.62" fill="none" stroke="#1a9bc4" stroke-width="1.2" stroke-dasharray="3.8,1.6,1.1,1.6"/>
<line x1="267.86" y1="387.78" x2="270.46" y2="387.78" stroke="#1a9bc4" stroke-width="1"/>
<line x1="267.86" y1="395.62" x2="270.46" y2="395.62" stroke="#1a9bc4" stroke-width="1"/>
<path d="M266.36,389.11L271.96,389.11L269.16,394.51Z" fill="#1a9bc4"/>
<line x1="286.55" y1="392.59" x2="286.55" y2="403.94" fill="none" stroke="#1a9bc4" stroke-width="1.2" stroke-dasharray="3.8,1.6,1.1,1.6"/>
<line x1="285.25" y1="392.59" x2="287.85" y2="392.59" stroke="#1a9bc4" stroke-width="1"/>
<line x1="285.25" y1="403.94" x2="287.85" y2="403.94" stroke="#1a9bc4" stroke-width="1"/>
<path d="M283.75,395.58L289.35,395.58L286.55,400.98Z" fill="#1a9bc4"/>
<line x1="312.62" y1="402.34" x2="312.62" y2="410.68" fill="none" stroke="#1a9bc4" stroke-width="1.2" stroke-dasharray="3.8,1.6,1.1,1.6"/>
<line x1="311.32" y1="402.34" x2="313.93" y2="402.34" stroke="#1a9bc4" stroke-width="1"/>
<line x1="311.32" y1="410.68" x2="313.93" y2="410.68" stroke="#1a9bc4" stroke-width="1"/>
<path d="M309.82,403.91L315.43,403.91L312.62,409.31Z" fill="#1a9bc4"/>
<line x1="347.40" y1="387.08" x2="347.40" y2="395.70" fill="none" stroke="#1a9bc4" stroke-width="1.2" stroke-dasharray="3.8,1.6,1.1,1.6"/>
<line x1="346.10" y1="387.08" x2="348.70" y2="387.08" stroke="#1a9bc4" stroke-width="1"/>
<line x1="346.10" y1="395.70" x2="348.70" y2="395.70" stroke="#1a9bc4" stroke-width="1"/>
<path d="M344.60,388.79L350.20,388.79L347.40,394.19Z" fill="#1a9bc4"/>
<path d="M56.20,410.17L58.20,413.17L56.20,416.17L54.20,413.17Z" fill="#ff0000"/>
<path d="M64.89,410.17L66.89,413.17L64.89,416.17L62.89,413.17Z" fill="#ff0000"/>
<path d="M73.58,408.92L75.58,411.92L73.58,414.92L71.58,411.92Z" fill="#ff0000"/>
<path d="M82.27,408.41L84.27,411.41L82.27,414.41L80.27,411.41Z" fill="#ff0000"/>
<path d="M90.97,408.41L92.97,411.41L90.97,414.41L88.97,411.41Z" fill="#ff0000"/>
<path d="M99.66,405.67L101.66,408.67L99.66,411.67L97.66,408.67Z" fill="#ff0000"/>
<path d="M108.35,405.67L110.35,408.67L108.35,411.67L106.35,408.67Z" fill="#ff0000"/>
<path d="M117.04,405.38L119.04,408.38L117.04,411.38L115.04,408.38Z" fill="#ff0000"/>
<path d="M125.74,401.97L127.74,404.97L125.74,407.97L123.74,404.97Z" fill="#ff0000"/>
<path d="M134.43,400.54L136.43,403.54L134.43,406.54L132.43,403.54Z" fill="#ff0000"/>
<path d="M143.12,401.78L145.12,404.78L143.12,407.78L141.12,404.78Z" fill="#ff0000"/>
<path d="M151.81,405.97L153.81,408.97L151.81,411.97L149.81,408.97Z" fill="#ff0000"/>
<path d="M160.51,403.61L162.51,406.61L160.51,409.61L158.51,406.61Z" fill="#ff0000"/>
<path d="M169.20,401.49L171.20,404.49L169.20,407.49L167.20,404.49Z" fill="#ff0000"/>
<path d="M177.89,396.86L179.89,399.86L177.89,402.86L175.89,399.86Z" fill="#ff0000"/>
<path d="M186.58,400.17L188.58,403.17L186.58,406.17L184.58,403.17Z" fill="#ff0000"/>
<path d="M199.62,400.54L201.62,403.54L199.62,406.54L197.62,403.54Z" fill="#ff0000"/>
<line x1="217.01" y1="385.06" x2="217.01" y2="390.39" fill="none" stroke="#ff0000" stroke-width="1.3" stroke-dasharray="1.1,1.3"/>
<line x1="215.71" y1="385.06" x2="218.31" y2="385.06" stroke="#ff0000" stroke-width="1"/>
<line x1="215.71" y1="390.39" x2="218.31" y2="390.39" stroke="#ff0000" stroke-width="1"/>
<path d="M217.01,384.68L219.01,387.68L217.01,390.68L215.01,387.68Z" fill="#ff0000"/>
<line x1="234.39" y1="395.80" x2="234.39" y2="401.33" fill="none" stroke="#ff0000" stroke-width="1.3" stroke-dasharray="1.1,1.3"/>
<line x1="233.09" y1="395.80" x2="235.69" y2="395.80" stroke="#ff0000" stroke-width="1"/>
<line x1="233.09" y1="401.33" x2="235.69" y2="401.33" stroke="#ff0000" stroke-width="1"/>
<path d="M234.39,395.52L236.39,398.52L234.39,401.52L232.39,398.52Z" fill="#ff0000"/>
<line x1="251.78" y1="393.51" x2="251.78" y2="399.78" fill="none" stroke="#ff0000" stroke-width="1.3" stroke-dasharray="1.1,1.3"/>
<line x1="250.48" y1="393.51" x2="253.08" y2="393.51" stroke="#ff0000" stroke-width="1"/>
<line x1="250.48" y1="399.78" x2="253.08" y2="399.78" stroke="#ff0000" stroke-width="1"/>
<path d="M251.78,393.59L253.78,396.59L251.78,399.59L249.78,396.59Z" fill="#ff0000"/>
<line x1="269.16" y1="375.25" x2="269.16" y2="383.13" fill="none" stroke="#ff0000" stroke-width="1.3" stroke-dasharray="1.1,1.3"/>
<line x1="267.86" y1="375.25" x2="270.46" y2="375.25" stroke="#ff0000" stroke-width="1"/>
<line x1="267.86" y1="383.13" x2="270.46" y2="383.13" stroke="#ff0000" stroke-width="1"/>
<path d="M269.16,376.10L271.16,379.10L269.16,382.10L267.16,379.10Z" fill="#ff0000"/>
<line x1="286.55" y1="381.73" x2="286.55" y2="389.63" fill="none" stroke="#ff0000" stroke-width="1.3" stroke-dasharray="1.1,1.3"/>
<line x1="285.25" y1="381.73" x2="287.85" y2="381.73" stroke="#ff0000" stroke-width="1"/>
<line x1="285.25" y1="389.63" x2="287.85" y2="389.63" stroke="#ff0000" stroke-width="1"/>
<path d="M286.55,382.59L288.55,385.59L286.55,388.59L284.55,385.59Z" fill="#ff0000"/>
<line x1="312.62" y1="391.20" x2="312.62" y2="399.24" fill="none" stroke="#ff0000" stroke-width="1.3" stroke-dasharray="1.1,1.3"/>
<line x1="311.32" y1="391.20" x2="313.93" y2="391.20" stroke="#ff0000" stroke-width="1"/>
<line x1="311.32" y1="399.24" x2="313.93" y2="399.24" stroke="#ff0000" stroke-width="1"/>
<path d="M312.62,392.13L314.62,395.13L312.62,398.13L310.62,395.13Z" fill="#ff0000"/>
<line x1="347.40" y1="374.66" x2="347.40" y2="387.61" fill="none" stroke="#ff0000" stroke-width="1.3" stroke-dasharray="1.1,1.3"/>
<line x1="346.10" y1="374.66" x2="348.70" y2="374.66" stroke="#ff0000" stroke-width="1"/>
<line x1="346.10" y1="387.61" x2="348.70" y2="387.61" stroke="#ff0000" stroke-width="1"/>
<path d="M347.40,377.90L349.40,380.90L347.40,383.90L345.40,380.90Z" fill="#ff0000"/>
<path d="M45.5,316.70h11M371.0,316.70h-11M45.5,303.30h5.6M371.0,303.30h-5.6M45.5,289.90h5.6M371.0,289.90h-5.6M45.5,276.50h5.6M371.0,276.50h-5.6M45.5,263.10h11M371.0,263.10h-11M45.5,249.70h5.6M371.0,249.70h-5.6M45.5,236.30h5.6M371.0,236.30h-5.6M45.5,222.90h5.6M371.0,222.90h-5.6M45.5,209.50h11M371.0,209.50h-11M45.5,196.10h5.6M371.0,196.10h-5.6M45.5,182.70h5.6M371.0,182.70h-5.6M45.5,169.30h5.6M371.0,169.30h-5.6M45.5,155.90h11M371.0,155.90h-11M45.5,142.50h5.6M371.0,142.50h-5.6M45.5,129.10h5.6M371.0,129.10h-5.6M45.5,115.70h5.6M371.0,115.70h-5.6M45.5,102.30h11M371.0,102.30h-11M45.5,88.90h5.6M371.0,88.90h-5.6M45.5,75.50h5.6M371.0,75.50h-5.6M45.5,62.10h5.6M371.0,62.10h-5.6M45.5,48.70h11M371.0,48.70h-11M45.5,35.30h5.6M371.0,35.30h-5.6M45.5,21.90h5.6M371.0,21.90h-5.6M51.85,317.1v-3.8M51.85,17.5v3.8M51.85,317.1v2.7M51.85,477.7v-2.7M69.23,317.1v-3.8M69.23,17.5v3.8M69.23,317.1v2.7M69.23,477.7v-2.7M86.62,317.1v-8M86.62,17.5v8M86.62,317.1v4.9M86.62,477.7v-4.9M104.01,317.1v-3.8M104.01,17.5v3.8M104.01,317.1v2.7M104.01,477.7v-2.7M121.39,317.1v-3.8M121.39,17.5v3.8M121.39,317.1v2.7M121.39,477.7v-2.7M138.78,317.1v-3.8M138.78,17.5v3.8M138.78,317.1v2.7M138.78,477.7v-2.7M156.16,317.1v-8M156.16,17.5v8M156.16,317.1v4.9M156.16,477.7v-4.9M173.55,317.1v-3.8M173.55,17.5v3.8M173.55,317.1v2.7M173.55,477.7v-2.7M190.93,317.1v-3.8M190.93,17.5v3.8M190.93,317.1v2.7M190.93,477.7v-2.7M208.31,317.1v-3.8M208.31,17.5v3.8M208.31,317.1v2.7M208.31,477.7v-2.7M225.70,317.1v-8M225.70,17.5v8M225.70,317.1v4.9M225.70,477.7v-4.9M243.09,317.1v-3.8M243.09,17.5v3.8M243.09,317.1v2.7M243.09,477.7v-2.7M260.47,317.1v-3.8M260.47,17.5v3.8M260.47,317.1v2.7M260.47,477.7v-2.7M277.86,317.1v-3.8M277.86,17.5v3.8M277.86,317.1v2.7M277.86,477.7v-2.7M295.24,317.1v-8M295.24,17.5v8M295.24,317.1v4.9M295.24,477.7v-4.9M312.62,317.1v-3.8M312.62,17.5v3.8M312.62,317.1v2.7M312.62,477.7v-2.7M330.01,317.1v-3.8M330.01,17.5v3.8M330.01,317.1v2.7M330.01,477.7v-2.7M347.40,317.1v-3.8M347.40,17.5v3.8M347.40,317.1v2.7M347.40,477.7v-2.7M364.78,317.1v-8M364.78,17.5v8M364.78,317.1v4.9M364.78,477.7v-4.9M45.5,477.31h5.5M371.0,477.31h-5.5M45.5,457.80h7.5M371.0,457.80h-7.5M45.5,441.86h5.5M371.0,441.86h-5.5M45.5,428.38h5.5M371.0,428.38h-5.5M45.5,416.71h5.5M371.0,416.71h-5.5M45.5,406.41h5.5M371.0,406.41h-5.5M45.5,397.20h7.5M371.0,397.20h-7.5M45.5,388.87h5.5M371.0,388.87h-5.5M45.5,381.26h5.5M371.0,381.26h-5.5M45.5,374.26h5.5M371.0,374.26h-5.5M45.5,367.78h5.5M371.0,367.78h-5.5M45.5,361.75h7.5M371.0,361.75h-7.5M45.5,356.11h5.5M371.0,356.11h-5.5M45.5,350.81h5.5M371.0,350.81h-5.5M45.5,345.81h5.5M371.0,345.81h-5.5M45.5,341.09h5.5M371.0,341.09h-5.5M45.5,336.60h7.5M371.0,336.60h-7.5M45.5,332.34h5.5M371.0,332.34h-5.5M45.5,328.27h5.5M371.0,328.27h-5.5M45.5,324.38h5.5M371.0,324.38h-5.5M45.5,320.66h5.5M371.0,320.66h-5.5" stroke="#000" stroke-width="1" fill="none"/>
<rect x="45.5" y="17.5" width="325.5" height="299.6" fill="none" stroke="#000" stroke-width="1.2"/>
<rect x="45.5" y="317.1" width="325.5" height="160.59999999999997" fill="none" stroke="#000" stroke-width="1.2"/>
<g font-family="Liberation Sans, sans-serif" fill="#000">
<text x="51.4" y="13.5" font-size="12">900 GeV pp</text>
<text x="367.5" y="13.5" font-size="12" text-anchor="end">Underlying Event</text>
<defs><clipPath id="c0"><rect x="0" y="0" width="393" height="317.1"/></clipPath></defs>
<text x="41.3" y="322.90" font-size="11.3" text-anchor="end" clip-path="url(#c0)">0</text>
<text x="41.3" y="53.60" font-size="11.3" text-anchor="end">1</text>
<text x="41.3" y="107.20" font-size="11.3" text-anchor="end">0.8</text>
<text x="41.3" y="160.80" font-size="11.3" text-anchor="end">0.6</text>
<text x="41.3" y="214.40" font-size="11.3" text-anchor="end">0.4</text>
<text x="41.3" y="268.00" font-size="11.3" text-anchor="end">0.2</text>
<text x="38.0" y="341.20" font-size="11.3" text-anchor="end">2</text>
<text x="373.6" y="341.20" font-size="11.3">2</text>
<text x="38.0" y="401.80" font-size="11.3" text-anchor="end">1</text>
<text x="373.6" y="401.80" font-size="11.3">1</text>
<text x="38.0" y="462.40" font-size="11.3" text-anchor="end">0.5</text>
<text x="373.6" y="462.40" font-size="11.3">0.5</text>
<text x="86.62" y="488.8" font-size="12" text-anchor="middle">2</text>
<text x="156.16" y="488.8" font-size="12" text-anchor="middle">4</text>
<text x="225.70" y="488.8" font-size="12" text-anchor="middle">6</text>
<text x="295.24" y="488.8" font-size="12" text-anchor="middle">8</text>
<text x="364.78" y="488.8" font-size="12" text-anchor="middle">10</text>
<text x="85.3" y="41.7" font-size="12">Transverse N</text>
<text x="153.4" y="46.8" font-size="7.6" textLength="13.9" lengthAdjust="spacingAndGlyphs">chg</text>
<text x="169.6" y="41.7" font-size="12">density vs.</text>
<text x="229.5" y="41.7" font-size="12">p</text>
<text x="234.6" y="48.7" font-size="7.6">T</text>
<text x="234.6" y="38.0" font-size="7.6">trk1</text>
<text x="247.2" y="41.7" font-size="12">,</text>
<text x="258.6" y="41.7" font-size="12">s</text>
<text x="267.2" y="41.7" font-size="12">=</text>
<text x="279.2" y="41.7" font-size="12" textLength="54.6" lengthAdjust="spacingAndGlyphs">{900 GeV}</text>
<text x="243.1" y="501.0" font-size="12.2">p</text>
<text x="249.8" y="506.2" font-size="7.5">T</text>
<text x="257.6" y="501.0" font-size="12.2" textLength="116.2" lengthAdjust="spacingAndGlyphs">(leading track) [GeV]</text>
<text x="94.6" y="65.40" font-size="9.4">ATLAS</text>
<text x="94.6" y="78.42" font-size="9.4">Herwig++ 2.7.1 default</text>
<text x="94.6" y="91.44" font-size="9.4">Herwig 7.2.1 default</text>
<text x="94.6" y="104.46" font-size="9.4">Pythia 8.315 default</text>
<text x="94.6" y="117.48" font-size="9.4">Pythia 8.315 vincia-default</text>
<text x="94.6" y="130.50" font-size="9.4">Sherpa 1.4.5 default</text>
</g>
<path d="M253.9,37.9L256.2,41.3L258.2,32.1H264.6" fill="none" stroke="#000" stroke-width="1.3"/>
<rect x="73.65" y="59.35" width="5.5" height="5.5" fill="#000"/>
<line x1="63.9" y1="75.20" x2="88.9" y2="75.20" fill="none" stroke="#b35a0c" stroke-width="1.25" stroke-dasharray="2.2,2.2"/>
<circle cx="76.40" cy="75.20" r="2.6" fill="none" stroke="#b35a0c" stroke-width="1.3"/>
<line x1="63.9" y1="88.22" x2="88.9" y2="88.22" fill="none" stroke="#3c9a14" stroke-width="1.25" stroke-dasharray="2.2,2.2"/>
<rect x="73.50" y="85.32" width="5.8" height="5.8" fill="none" stroke="#3c9a14" stroke-width="1.3"/>
<line x1="63.9" y1="101.24" x2="88.9" y2="101.24" fill="none" stroke="#0000ff" stroke-width="1.3"/>
<path d="M73.60,103.74L79.20,103.74L76.40,98.34Z" fill="#0000ff"/>
<line x1="63.9" y1="114.26" x2="88.9" y2="114.26" fill="none" stroke="#1a9bc4" stroke-width="1.2" stroke-dasharray="3.8,1.6,1.1,1.6"/>
<path d="M73.60,111.76L79.20,111.76L76.40,117.16Z" fill="#1a9bc4"/>
<line x1="63.9" y1="127.28" x2="88.9" y2="127.28" fill="none" stroke="#ff0000" stroke-width="1.3" stroke-dasharray="1.1,1.3"/>
<path d="M76.40,124.28L78.40,127.28L76.40,130.28L74.40,127.28Z" fill="#ff0000"/>
<text font-family="Liberation Sans, sans-serif" font-size="8" fill="#b4b4b4" x="165.3" y="302.2">(ATLAS_2010_I879407)</text>
<text font-family="Liberation Sans, sans-serif" font-size="9.8" fill="#808080" textLength="107.4" lengthAdjust="spacingAndGlyphs" transform="translate(380.3,126.9) rotate(-90)">Rivet 4.1.0, ≥ 700k events</text>
<text font-family="Liberation Sans, sans-serif" font-size="9.8" fill="#808080" textLength="145.4" lengthAdjust="spacingAndGlyphs" transform="translate(380.3,313.3) rotate(-90)">mcplots.cern.ch [arXiv:2401.10621]</text>
<text font-family="Liberation Sans, sans-serif" font-size="9.3" fill="#000" transform="translate(18.3,428) rotate(-90)">Ratio to ATLAS</text>
<g font-family="Liberation Sans, sans-serif" fill="#000" transform="translate(16.2,102) rotate(-90)">
<text x="3.7" y="0" font-size="12" text-anchor="middle">#</text>
<text x="14.25" y="0" font-size="12" text-anchor="middle">d</text>
<text x="18.6" y="-7.6" font-size="7.5" text-anchor="middle">2</text>
<text x="29.7" y="0" font-size="12" text-anchor="middle">N</text>
<text x="46.1" y="0" font-size="12" text-anchor="middle">/</text>
<text x="50.5" y="0" font-size="12" text-anchor="middle">d</text>
<text x="56.6" y="0" font-size="12" text-anchor="middle">η</text>
<text x="63.65" y="0" font-size="12" text-anchor="middle">d</text>
<text x="70.9" y="0" font-size="12" text-anchor="middle">φ</text>
<text x="77.45" y="0" font-size="12" text-anchor="middle">#</text>
<text x="39.1" y="1.8" font-size="7.8" text-anchor="middle" textLength="11.8" lengthAdjust="spacingAndGlyphs">chg</text>
</g>
<path d="M7,91.1L12.2,94.3L17.5,91.1M7,21L12.2,17.4L17.3,21" fill="none" stroke="#000" stroke-width="0.8"/>
</svg></body></html>
